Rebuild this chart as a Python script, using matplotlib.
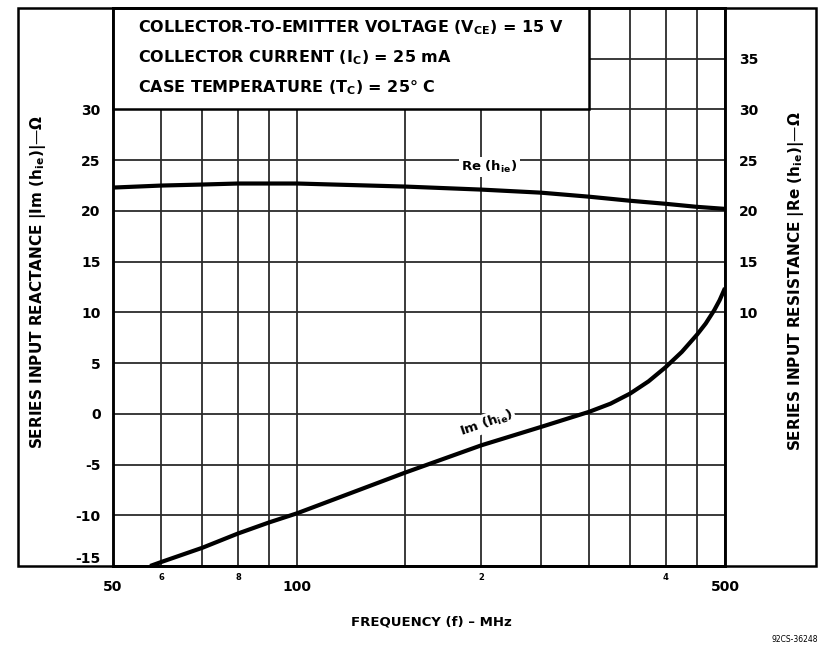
import matplotlib
matplotlib.use("Agg")
import matplotlib.pyplot as plt
from matplotlib.patches import Rectangle
from matplotlib.ticker import FixedLocator, FuncFormatter

plt.rcParams["font.family"] = ["DejaVu Sans"]
plt.rcParams["font.weight"] = "bold"
plt.rcParams["axes.labelweight"] = "bold"
plt.rcParams["mathtext.fontset"] = "dejavusans"
plt.rcParams["mathtext.default"] = "bf"

# Frequency grid and labels (MHz)
grid_freqs = [60, 70, 80, 90, 150, 200, 250, 300, 350, 400, 450]
major_freqs = [50, 100, 500]
minor_labels = {60: "6", 80: "8", 200: "2", 400: "4"}

y_ticks = [-15, -10, -5, 0, 5, 10, 15, 20, 25, 30, 35, 40]
left_labels = ["-15", "-10", "-5", "0", "5", "10", "15", "20", "25", "30", "", ""]
right_labels = ["", "", "", "", "", "10", "15", "20", "25", "30", "35", ""]

# Re(hie) - series input resistance
freq_re = [50, 60, 70, 80, 90, 100, 150, 200, 250, 300, 350, 400, 450, 500]
re_hie = [22.3, 22.5, 22.6, 22.7, 22.7, 22.7, 22.4, 22.1, 21.8, 21.4, 21.0, 20.7, 20.4, 20.2]

# Im(hie) - series input reactance
freq_im = [57.5, 60, 70, 80, 90, 100, 150, 200, 250, 300, 325, 350, 375, 400, 425, 450, 465, 480, 490, 500]
im_hie = [-15, -14.6, -13.2, -11.8, -10.7, -9.8, -5.8, -3.1, -1.3, 0.2, 1.0, 2.0, 3.2, 4.6, 6.1, 7.8, 8.9, 10.2, 11.2, 12.4]

conditions = [
    r"COLLECTOR-TO-EMITTER VOLTAGE (V$_{CE}$) = 15 V",
    r"COLLECTOR CURRENT (I$_{C}$) = 25 mA",
    r"CASE TEMPERATURE (T$_{C}$) = 25° C",
]

fig = plt.figure(figsize=(8.23, 6.5), dpi=100)
ax = fig.add_axes([113 / 823, 1 - 566 / 650, 612 / 823, 558 / 650])

ax.set_xscale("log")
ax.set_xlim(50, 500)
ax.set_ylim(-15, 40)

ax.xaxis.set_major_locator(FixedLocator(major_freqs))
ax.xaxis.set_minor_locator(FixedLocator(grid_freqs))
ax.xaxis.set_major_formatter(FuncFormatter(lambda v, p: f"{v:g}"))
ax.xaxis.set_minor_formatter(FuncFormatter(lambda v, p: minor_labels.get(int(round(v)), "")))
ax.tick_params(axis="x", which="major", length=0, pad=10, labelsize=10)
ax.tick_params(axis="x", which="minor", length=0, pad=5, labelsize=6)

ax.set_yticks(y_ticks)
ax.set_yticklabels(left_labels, fontsize=10)
ax.get_yticklabels()[0].set_verticalalignment("bottom")
ax.tick_params(axis="y", length=0, pad=9)

ax.grid(True, which="both", color="#2b2b2b", linewidth=1.3, zorder=1)
for s in ax.spines.values():
    s.set_linewidth(1.8)

# conditions box in the upper left
ax.add_patch(Rectangle((50, 30), 250, 10, facecolor="white", edgecolor="black",
                       linewidth=1.8, zorder=3, clip_on=False))
for i, line in enumerate(conditions):
    ax.text(0.041, 0.964 - i * 0.053, line, transform=ax.transAxes,
            fontsize=11.5, va="center", ha="left", zorder=4)

ax.plot(freq_re, re_hie, color="black", linewidth=3, zorder=5, solid_capstyle="butt")
ax.plot(freq_im, im_hie, color="black", linewidth=3, zorder=5, solid_capstyle="butt",
        solid_joinstyle="round")

ax.text(206, 24.3, r"Re (h$_{ie}$)", fontsize=9.5, ha="center", va="center", zorder=6,
        bbox=dict(facecolor="white", edgecolor="none", pad=1.5))
ax.text(204, -0.9, r"Im (h$_{ie}$)", fontsize=9.5, ha="center", va="center", zorder=6,
        rotation=19, bbox=dict(facecolor="white", edgecolor="none", pad=1.0))

ax.set_xlabel("FREQUENCY (f) \u2013 MHz", fontsize=9.5)
ax.xaxis.set_label_coords(0.52, -0.088)
ax.set_ylabel(r"SERIES INPUT REACTANCE $|$Im (h$_{ie}$)$|$" + "\u2014\u03a9", fontsize=11)
ax.yaxis.set_label_coords(-0.106, 0.51)

ax2 = ax.twinx()
ax2.set_ylim(ax.get_ylim())
ax2.set_yticks(y_ticks)
ax2.set_yticklabels(right_labels, fontsize=10)
ax2.tick_params(axis="y", length=0, pad=10)
ax2.set_ylabel(r"SERIES INPUT RESISTANCE $|$Re (h$_{ie}$)$|$" + "\u2014\u03a9", fontsize=11)
ax2.yaxis.set_label_coords(1.1, 0.51)
for s in ax2.spines.values():
    s.set_linewidth(1.8)

# outer frame around the whole chart
fig.add_artist(Rectangle((18 / 823, 1 - 566 / 650), 798 / 823, 558 / 650,
                         transform=fig.transFigure, fill=False, edgecolor="black",
                         linewidth=1.8))

fig.text(795 / 823, 1 - 640 / 650, "92CS-36248", fontsize=5.5, ha="center",
         va="center", fontweight="normal")

fig.savefig("out.png", dpi=100)
